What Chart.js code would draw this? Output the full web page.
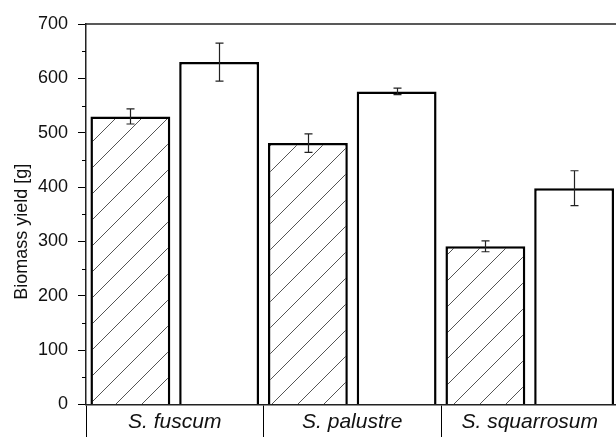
<!DOCTYPE html>
<html>
<head>
<meta charset="utf-8">
<script src="https://cdn.jsdelivr.net/npm/chart.js@4"></script>
<style>
    html, body { margin: 0; padding: 0; background: #fff; overflow: hidden; }
    #wrap { width: 616px; height: 437px; overflow: hidden; }
</style>
</head>
<body>
<div id="wrap"><canvas id="graph" width="620" height="437"></canvas></div>
<script>
// data
const categories = ['S. fuscum', 'S. palustre', 'S. squarrosum']
const hatchedValues = [530, 481, 291]
const hatchedErrors = [14, 17, 10]
const openValues = [630, 576, 398]
const openErrors = [35, 6, 32]
const yTicks = [0, 100, 200, 300, 400, 500, 600, 700]

// diagonal hatch for the first series
function makeHatch() {
    let size = 26
    let c = document.createElement('canvas')
    c.width = size
    c.height = size
    let g = c.getContext('2d')
    g.fillStyle = '#fff'
    g.fillRect(0, 0, size, size)
    g.strokeStyle = '#555'
    g.lineWidth = 1
    for (let k = -1; k <= 1; k++) {
        g.beginPath()
        g.moveTo(k * size, size)
        g.lineTo(k * size + size, 0)
        g.stroke()
    }
    return g.createPattern(c, 'repeat')
}

// error bars, minor y ticks and the top frame line
const extras = {
    id: 'extras',
    afterDatasetsDraw(chart) {
        let ctx = chart.ctx
        let y = chart.scales.y
        let errs = [hatchedErrors, openErrors]
        ctx.save()
        ctx.strokeStyle = '#222'
        ctx.lineWidth = 1.2
        chart.data.datasets.forEach((ds, i) => {
            let meta = chart.getDatasetMeta(i)
            meta.data.forEach((bar, j) => {
                let v = ds.data[j]
                let e = errs[i][j]
                let x = Math.round(bar.x) + 0.5
                let top = y.getPixelForValue(v + e)
                let bot = y.getPixelForValue(v - e)
                ctx.beginPath()
                ctx.moveTo(x, top)
                ctx.lineTo(x, bot)
                ctx.moveTo(x - 4, top)
                ctx.lineTo(x + 4, top)
                ctx.moveTo(x - 4, bot)
                ctx.lineTo(x + 4, bot)
                ctx.stroke()
            })
        })
        // minor ticks halfway between the labelled ones
        ctx.strokeStyle = '#000'
        ctx.lineWidth = 1
        for (let i = 0; i < yTicks.length - 1; i++) {
            let py = Math.round(y.getPixelForValue((yTicks[i] + yTicks[i + 1]) / 2)) + 0.5
            ctx.beginPath()
            ctx.moveTo(chart.chartArea.left - 4, py)
            ctx.lineTo(chart.chartArea.left, py)
            ctx.stroke()
        }
        // frame line along the top
        let a = chart.chartArea
        ctx.lineWidth = 1.5
        ctx.strokeStyle = '#222'
        ctx.beginPath()
        ctx.moveTo(a.left, a.top)
        ctx.lineTo(a.right + 2, a.top)
        ctx.stroke()
        ctx.restore()
    }
}

let chart = new Chart(document.getElementById('graph'), {
    type: 'bar',
    data: {
        labels: categories,
        datasets: [{
            label: 'hatched',
            data: hatchedValues,
            backgroundColor: makeHatch(),
            borderColor: '#000',
            borderWidth: 2.5
        }, {
            label: 'open',
            data: openValues,
            backgroundColor: '#fff',
            borderColor: '#000',
            borderWidth: 2.5
        }]
    },
    options: {
        responsive: false,
        animation: false,
        devicePixelRatio: 1,
        layout: { padding: { top: 24, right: 1.5, left: 0, bottom: 0 } },
        datasets: {
            bar: { categoryPercentage: 1, barPercentage: 0.9 }
        },
        scales: {
            x: {
                offset: true,
                afterFit: s => { s.height = 32.5 },
                grid: {
                    offset: true,
                    drawOnChartArea: false,
                    tickLength: 34,
                    color: '#000',
                    lineWidth: 1
                },
                border: { color: '#222', width: 1.5 },
                ticks: {
                    color: '#111',
                    padding: -29,
                    font: { family: 'Liberation Sans, Arial', size: 21, style: 'italic' }
                }
            },
            y: {
                min: 0,
                max: 700,
                afterFit: s => { s.width = 86 },
                afterBuildTicks: s => { s.ticks = yTicks.map(v => ({ value: v })) },
                grid: {
                    drawOnChartArea: false,
                    tickLength: 8,
                    color: '#000',
                    lineWidth: 1
                },
                border: { color: '#222', width: 1.5 },
                ticks: {
                    color: '#111',
                    padding: 10,
                    font: { family: 'Liberation Sans, Arial', size: 18 }
                },
                title: {
                    display: true,
                    // trailing blanks push the visible text a little lower, as in the original
                    text: 'Biomass yield [g]' + '\u00a0'.repeat(7),
                    color: '#111',
                    padding: { top: 11, bottom: 0 },
                    font: { family: 'Liberation Sans, Arial', size: 18 }
                }
            }
        },
        plugins: {
            legend: { display: false },
            tooltip: { enabled: false }
        }
    },
    plugins: [extras]
})
</script>
</body>
</html>
